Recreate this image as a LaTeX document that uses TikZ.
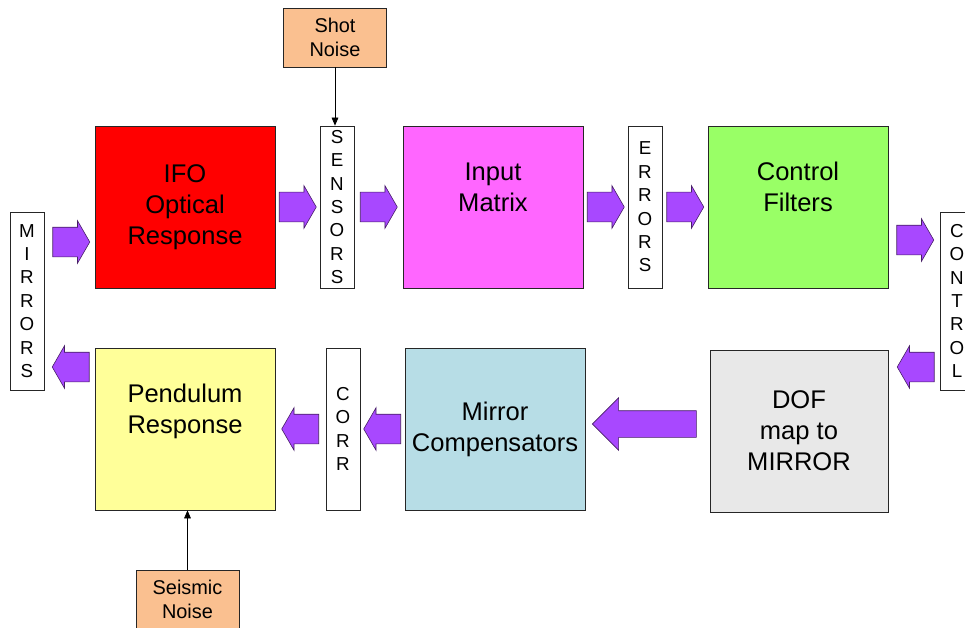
\documentclass[tikz,border=0pt]{standalone}
\usepackage{fontspec}
\setmainfont{Liberation Sans}
\usetikzlibrary{shapes.arrows, arrows.meta, positioning, calc}

\definecolor{ifored}{HTML}{FF0000}
\definecolor{matpink}{HTML}{FF66FF}
\definecolor{filtgreen}{HTML}{99FF66}
\definecolor{pendyellow}{HTML}{FFFF99}
\definecolor{compblue}{HTML}{B7DDE6}
\definecolor{dofgray}{HTML}{E8E8E8}
\definecolor{noiseorange}{HTML}{FAC090}
\definecolor{arrowfill}{RGB}{168,72,255}
\definecolor{arrowedge}{RGB}{70,30,100}

\tikzset{
  block/.style={draw=black!85, line width=0.6pt, minimum width=54mm, minimum height=48.6mm,
                inner sep=0pt, align=center, font=\fontsize{21.8}{26.5}\selectfont},
  strip/.style={draw=black!85, fill=white, line width=0.6pt, minimum width=10.2mm,
                minimum height=48.6mm, inner sep=0pt, align=center, font=\fontsize{16}{20}\selectfont},
  noise/.style={draw=black!85, fill=noiseorange, line width=0.6pt, minimum width=30.9mm,
                minimum height=17.7mm, inner sep=0pt, align=center, font=\fontsize{17}{20.4}\selectfont},
  arrowbase/.style={single arrow, draw=arrowedge, fill=arrowfill, line width=0.5pt,
                    inner xsep=0pt, inner ysep=4.35mm, single arrow head extend=1.95mm,
                    single arrow tip angle=120, minimum height=11.1mm},
  fatarrow/.style={arrowbase, xshift=-1.2mm},
  backarrow/.style={arrowbase, shape border rotate=180, xshift=1.2mm},
  bigarrow/.style={arrowbase, shape border rotate=180, inner ysep=3.9mm,
                   single arrow head extend=3.9mm, single arrow tip angle=90,
                   minimum height=31.2mm, xshift=1.8mm},
  thin/.style={line width=0.6pt, -{Triangle[length=2.4mm,width=2mm]}}
}

\begin{document}
\begin{tikzpicture}[x=0.3mm, y=-0.3mm]
    \useasboundingbox (0,0) rectangle (965,628);
    \fill[white] (0,0) rectangle (965,628);
    \clip (0,0) rectangle (965,628);

    % upper row
    \node[strip, minimum height=53.4mm] (mirrors) at (27,301) {M\\I\\R\\R\\O\\R\\S};
    \node[block, fill=ifored] (ifo) at (185,207) {IFO\\Optical\\Response};
    \node[strip] (sensors) at (337,207) {S\\E\\N\\S\\O\\R\\S};
    \node[block, fill=matpink] (inmat) at (493,207) {Input\\Matrix\\\strut};
    \node[strip] (errors) at (645,207) {E\\R\\R\\O\\R\\S};
    \node[block, fill=filtgreen] (filters) at (798,207) {Control\\Filters\\\strut};
    \node[strip, minimum height=53.4mm] (control) at (957,301) {C\\O\\N\\T\\R\\O\\L};

    % lower row
    \node[block, fill=pendyellow] (pend) at (185,429) {Pendulum\\Response\\\strut};
    \node[strip] (corr) at (343,429) {C\\O\\R\\R};
    \node[block, fill=compblue] (comp) at (495,429) {Mirror\\Compensators};
    \node[block, fill=dofgray, minimum width=53.4mm] (dof) at (799,431) {DOF\\map to\\MIRROR};

    % noise inputs
    \node[noise] (shot) at (335,37.5) {Shot\\Noise};
    \node[noise] (seismic) at (187.5,599.5) {Seismic\\Noise};
    \draw[thin] (shot.south) -- (shot.south |- sensors.north);
    \draw[thin] (seismic.north) -- (seismic.north |- pend.south);

    % signal flow
    \node[fatarrow] (a1) at (71,242) {};
    \node[fatarrow] (a2) at ($(ifo.east)!0.5!(sensors.west)$) {};
    \node[fatarrow] (a3) at ($(sensors.east)!0.5!(inmat.west)$) {};
    \node[fatarrow] (a4) at ($(inmat.east)!0.5!(errors.west)$) {};
    \node[fatarrow] (a5) at ($(errors.east)!0.5!(filters.west)$) {};
    \node[fatarrow] (a6) at (915,240) {};
    \node[backarrow] (a7) at (916,367) {};
    \node[bigarrow] (a8) at (645,424) {};
    \node[backarrow] (a9) at ($(corr.east)!0.5!(comp.west)$) {};
    \node[backarrow] (a10) at ($(pend.east)!0.5!(corr.west)$) {};
    \node[backarrow] (a11) at (71,367) {};
\end{tikzpicture}
\end{document}
